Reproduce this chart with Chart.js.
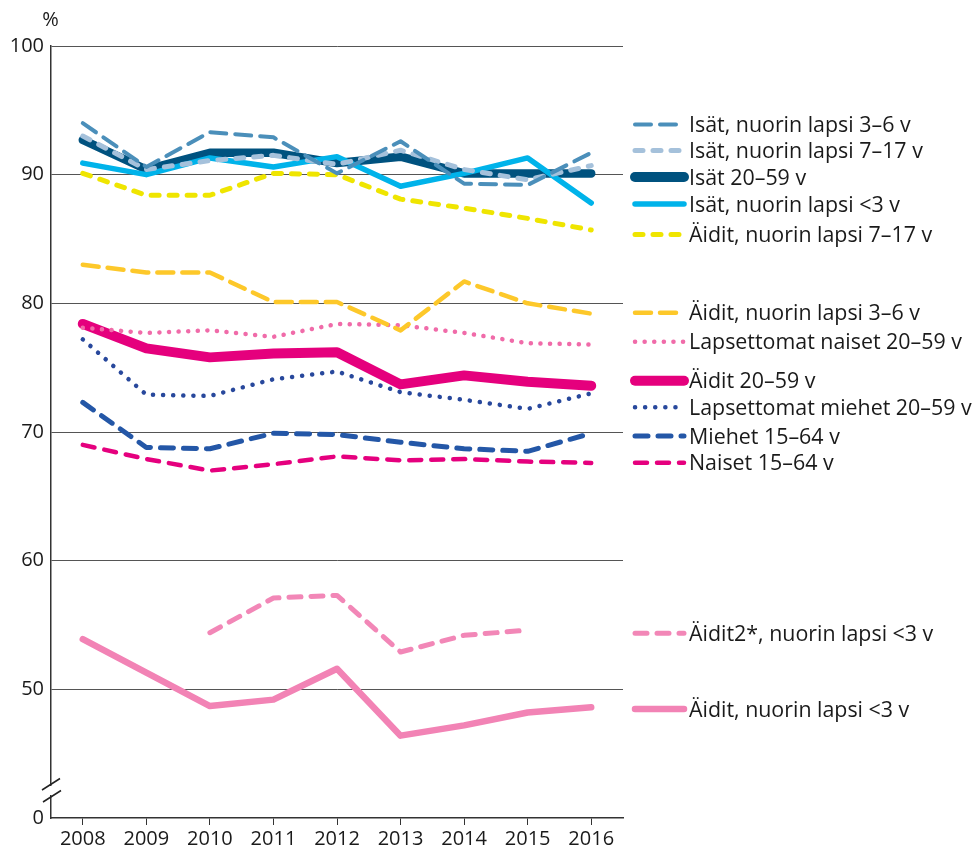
<!DOCTYPE html>
<html lang="fi">
<head>
    <meta charset="UTF-8">
    <title>Työllisyysasteet 2008–2016</title>
    <script src="https://cdn.jsdelivr.net/npm/chart.js"></script>
    <style>
        html, body { margin: 0; padding: 0; background: #ffffff; }
        #chart { display: block; }
    </style>
</head>
<body>
<canvas id="chart" width="975" height="848"></canvas>

<script>
    // Vuodet ja y-akselin jaotus
    const years = ['2008', '2009', '2010', '2011', '2012', '2013', '2014', '2015', '2016'];
    const yTicks = [40, 50, 60, 70, 80, 90, 100];
    const yTickLabels = ['0', '50', '60', '70', '80', '90', '100'];

    // Sarjat (%), luettu kuvasta
    const isatLapsi3to6 = [94.0, 90.6, 93.3, 92.9, 90.1, 92.6, 89.3, 89.2, 91.7];
    const isatLapsi7to17 = [93.0, 90.4, 91.1, 91.5, 90.8, 91.9, 90.4, 89.6, 90.7];
    const isat20to59 = [92.7, 90.4, 91.7, 91.7, 90.9, 91.4, 90.1, 90.1, 90.1];
    const isatLapsiAlle3 = [90.9, 90.0, 91.3, 90.6, 91.4, 89.1, 90.1, 91.3, 87.8];
    const aiditLapsi7to17 = [90.1, 88.4, 88.4, 90.1, 90.0, 88.1, 87.4, 86.6, 85.7];
    const aiditLapsi3to6 = [83.0, 82.4, 82.4, 80.1, 80.1, 77.9, 81.7, 80.0, 79.2];
    const lapsettomatNaiset = [78.1, 77.7, 77.9, 77.4, 78.4, 78.3, 77.7, 76.9, 76.8];
    const aidit20to59 = [78.4, 76.5, 75.8, 76.1, 76.2, 73.7, 74.4, 73.9, 73.6];
    const lapsettomatMiehet = [77.2, 72.9, 72.8, 74.1, 74.7, 73.1, 72.5, 71.8, 73.0];
    const miehet15to64 = [72.3, 68.8, 68.7, 69.9, 69.8, 69.2, 68.7, 68.5, 69.9];
    const naiset15to64 = [69.0, 67.9, 67.0, 67.5, 68.1, 67.8, 67.9, 67.7, 67.6];
    const aidit2LapsiAlle3 = [null, null, 54.4, 57.1, 57.3, 52.9, 54.2, 54.6, null];
    const aiditLapsiAlle3 = [53.9, 51.3, 48.7, 49.2, 51.6, 46.4, 47.2, 48.2, 48.6];

    // Selitteiden pystykohdat (px)
    const legendY = [124.5, 150.5, 177, 204, 234.5, 312.7, 341.7, 380.7, 407.3, 436, 462.7, 633.3, 709];

    Chart.defaults.font.family = "'Open Sans', sans-serif";
    Chart.defaults.font.size = 20;
    Chart.defaults.color = '#1a1a1a';

    function line(label, data, color, width, dash, extra) {
        return Object.assign({
            label: label,
            data: data,
            borderColor: color,
            backgroundColor: color,
            borderWidth: width,
            borderDash: dash,
            borderCapStyle: 'round',
            borderJoinStyle: 'round',
            pointRadius: 0,
            pointHoverRadius: 0,
            tension: 0,
            fill: false,
            spanGaps: false,
            order: 0
        }, extra || {});
    }

    // Oma selite, prosenttimerkki ja akselin katkos
    const decorations = {
        id: 'decorations',
        afterDraw(chart) {
            const ctx = chart.ctx;
            const area = chart.chartArea;

            chart.data.datasets.forEach((ds, i) => {
                const y = legendY[i];
                ctx.save();
                ctx.strokeStyle = ds.borderColor;
                ctx.lineWidth = ds.legendWidth || ds.borderWidth;
                ctx.lineCap = 'round';
                ctx.setLineDash(ds.borderDash || []);
                ctx.beginPath();
                ctx.moveTo(635, y);
                ctx.lineTo(684, y);
                ctx.stroke();
                ctx.restore();

                ctx.save();
                ctx.fillStyle = '#1a1a1a';
                ctx.font = "21.4px 'Open Sans', sans-serif";
                ctx.textBaseline = 'alphabetic';
                ctx.fillText(ds.label, 689, y + 7.5);
                ctx.restore();
            });

            ctx.save();
            ctx.fillStyle = '#1a1a1a';
            ctx.font = "20px 'Open Sans', sans-serif";
            ctx.textAlign = 'center';
            ctx.textBaseline = 'middle';
            ctx.fillText('%', 50.5, 20.5);

            // katkos
            ctx.fillStyle = '#ffffff';
            ctx.fillRect(area.left - 3, 786, 6, 9);
            ctx.strokeStyle = '#222';
            ctx.lineWidth = 1.5;
            ctx.beginPath();
            ctx.moveTo(42, 790);
            ctx.lineTo(60, 778.5);
            ctx.moveTo(43, 802);
            ctx.lineTo(61, 790.5);
            ctx.stroke();
            ctx.restore();
        }
    };

    const config = {
        type: 'line',
        data: {
            labels: years,
            datasets: [
                line('Isät, nuorin lapsi 3–6 v', isatLapsi3to6, '#4b8fba', 4, [16, 9]),
                line('Isät, nuorin lapsi 7–17 v', isatLapsi7to17, '#a5c1db', 5, [8, 10]),
                line('Isät 20–59 v', isat20to59, '#00527f', 8.5, [], { order: 1, legendWidth: 10 }),
                line('Isät, nuorin lapsi <3 v', isatLapsiAlle3, '#00b3ea', 5.5, []),
                line('Äidit, nuorin lapsi 7–17 v', aiditLapsi7to17, '#efe500', 5, [8, 10]),
                line('Äidit, nuorin lapsi 3–6 v', aiditLapsi3to6, '#fdc82a', 4.5, [16, 9]),
                line('Lapsettomat naiset 20–59 v', lapsettomatNaiset, '#f06ba9', 4.5, [0.1, 9.5]),
                line('Äidit 20–59 v', aidit20to59, '#e5007d', 10, [], { order: 1 }),
                line('Lapsettomat miehet 20–59 v', lapsettomatMiehet, '#28489c', 4.5, [0.1, 10]),
                line('Miehet 15–64 v', miehet15to64, '#2457a7', 5, [13, 10]),
                line('Naiset 15–64 v', naiset15to64, '#e5007e', 4.5, [12, 10]),
                line('Äidit2*, nuorin lapsi <3 v', aidit2LapsiAlle3, '#f287b7', 5, [12, 10]),
                line('Äidit, nuorin lapsi <3 v', aiditLapsiAlle3, '#f283b5', 6.5, [])
            ]
        },
        options: {
            responsive: false,
            animation: false,
            events: [],
            layout: {
                padding: { left: 0, right: 352, top: 46, bottom: 0 }
            },
            plugins: {
                legend: { display: false },
                tooltip: { enabled: false }
            },
            scales: {
                x: {
                    type: 'category',
                    offset: true,
                    afterFit(scale) { scale.height = 30; },
                    grid: {
                        display: true,
                        drawOnChartArea: false,
                        drawTicks: true,
                        tickLength: 7,
                        tickColor: '#333',
                        offset: false
                    },
                    border: { color: '#333', width: 1.5 },
                    ticks: {
                        padding: 2,
                        maxRotation: 0,
                        autoSkip: false,
                        font: { size: 20 }
                    }
                },
                y: {
                    min: 40,
                    max: 100,
                    afterFit(scale) { scale.width = 51; },
                    afterBuildTicks(scale) {
                        scale.ticks = yTicks.map(v => ({ value: v }));
                    },
                    grid: {
                        color: ctx => (ctx.tick && ctx.tick.value === 40) ? 'rgba(0,0,0,0)' : '#555',
                        lineWidth: 1,
                        drawTicks: false
                    },
                    border: { color: '#333', width: 1.5 },
                    ticks: {
                        padding: 7,
                        font: { size: 20 },
                        callback: function (value) {
                            const idx = yTicks.indexOf(value);
                            return idx >= 0 ? yTickLabels[idx] : '';
                        }
                    }
                }
            }
        },
        plugins: [decorations]
    };

    const chart = new Chart(document.getElementById('chart'), config);
</script>
</body>
</html>
